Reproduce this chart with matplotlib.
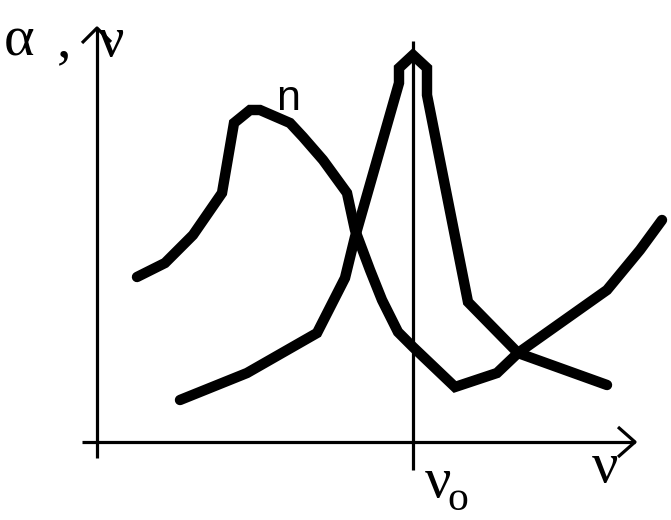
import matplotlib
matplotlib.use('Agg')
import matplotlib.pyplot as plt

# curve points (pixel space, y grows downward)
n_x = [137, 165, 193, 222, 234, 250, 260, 290, 303, 323, 347, 355, 370, 382, 398, 413, 455, 497, 518, 607, 640, 662]
n_y = [277, 263, 235, 193, 123, 110, 110, 123, 137, 160, 193, 230, 270, 300, 332, 347, 387, 373, 353, 290, 250, 220]

a_x = [180, 247, 317, 345, 355, 399, 399, 413, 427, 427, 468, 518, 607]
a_y = [400, 373, 333, 278, 237, 83, 68, 55, 68, 95, 302, 353, 385]

# axes geometry
x_axis_y = 442
y_axis_x = 97
nu0_x = 413

fig = plt.figure(figsize=(6.71, 5.20), dpi=100)
ax = fig.add_axes([0, 0, 1, 1])
ax.set_xlim(0, 671)
ax.set_ylim(520, 0)
ax.axis('off')

axis_kw = dict(color='black', lw=2.3, solid_capstyle='butt')
# x axis with open arrow head
ax.plot([82, 635], [x_axis_y, x_axis_y], **axis_kw)
ax.plot([618, 635, 618], [x_axis_y - 15, x_axis_y, x_axis_y + 15], **axis_kw)
# y axis with open arrow head
ax.plot([y_axis_x, y_axis_x], [458, 28], **axis_kw)
ax.plot([82, y_axis_x, 111], [43, 28, 42], **axis_kw)
# resonance line
ax.plot([nu0_x, nu0_x], [41, 470], **axis_kw)

curve_kw = dict(color='black', lw=7.5, solid_capstyle='round', solid_joinstyle='miter')
ax.plot(n_x, n_y, **curve_kw)
ax.plot(a_x, a_y, **curve_kw)

serif = ['Liberation Serif', 'DejaVu Serif']
greek = dict(family=serif, fontsize=42, ha='left', va='baseline')
ax.text(4, 56, 'α', **greek)
ax.text(57, 56, ',', **greek)
ax.text(98, 56, 'ν', **greek)
ax.text(592, 482, 'ν', **greek)
ax.text(425, 497, 'ν', **greek)
ax.text(447, 510, 'o', family=serif, fontsize=30, ha='left', va='baseline')
ax.text(276, 110, 'n', family=['Liberation Sans', 'DejaVu Sans'], fontsize=31, ha='left', va='baseline')

fig.savefig('out.png', dpi=100)
